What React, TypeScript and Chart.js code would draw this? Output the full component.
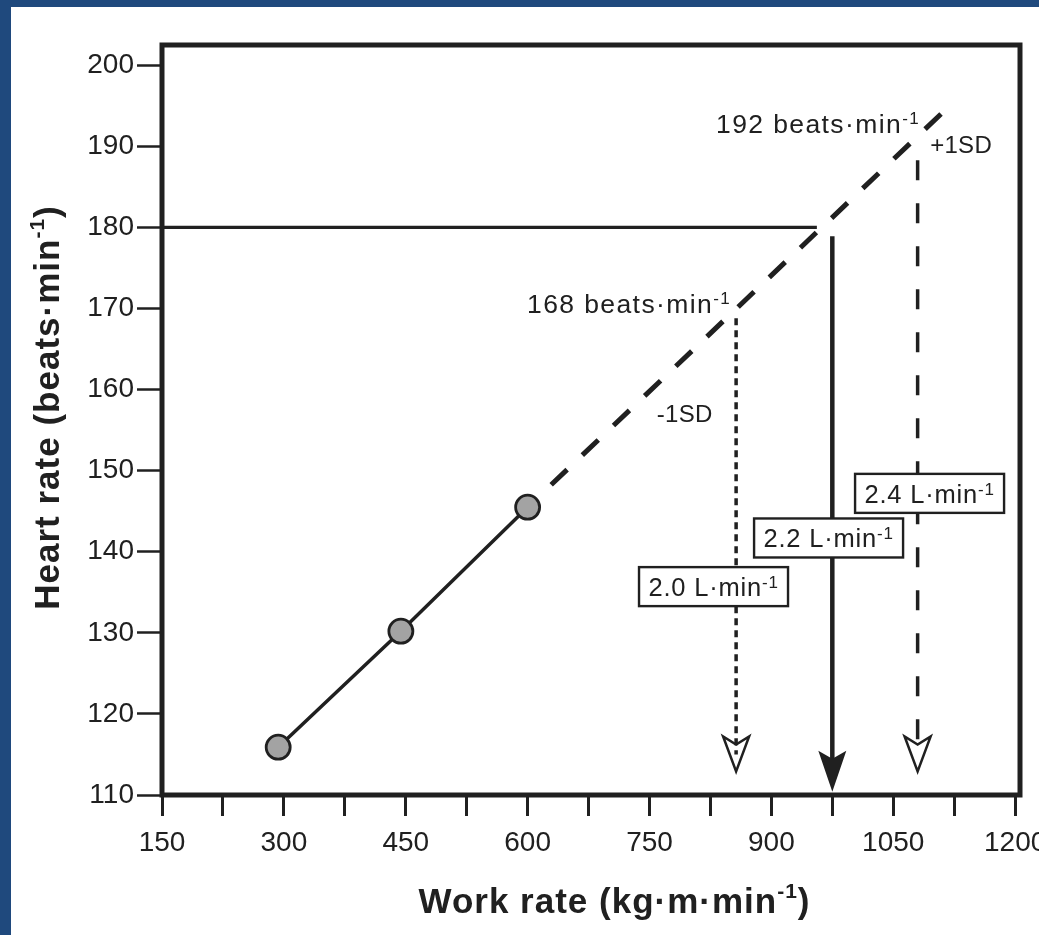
import React, { useEffect, useRef } from 'react';
import { Chart, registerables } from 'chart.js';

Chart.register(...registerables);

// ---------- data ----------
const xTickValues = [150, 225, 300, 375, 450, 525, 600, 675, 750, 825, 900, 975, 1050, 1125, 1200];
const xLabelValues = [150, 300, 450, 600, 750, 900, 1050, 1200];
const yTickValues = [110, 120, 130, 140, 150, 160, 170, 180, 190, 200];

// measured submaximal points
const workRate = [293, 444, 600];
const heartRate = [115.9, 130.2, 145.5];

// extrapolated line (dashed)
const extrapWork = [600, 1111];
const extrapHR = [145.5, 194.2];

// predicted max HR horizontal line
const maxHRWork = [150, 956];
const maxHR = [180, 180];

// vertical drop lines
const predWork = [975, 975];
const predHR = [178.9, 113];
const minusSDWork = [856.6, 856.6];
const minusSDHR = [168.8, 115];
const plusSDWork = [1080, 1080];
const plusSDHR = [188.3, 115];

// arrowheads
const arrowWork = [975, 856.6, 1080];
const arrowTipHR = [110.4, 112.9, 112.9];
const arrowFilled = [true, false, false];

// annotation texts
const beatsText = ['192 beats·min', '168 beats·min'];
const beatsWork = [1083, 850.4];
const beatsHR = [191.6, 169.5];

const sdText = ['+1SD', '-1SD'];
const sdWork = [1095.4, 758.9];
const sdHR = [189.15, 156.0];

const vo2Text = ['2.4 L·min', '2.2 L·min', '2.0 L·min'];
const vo2Work = [1094.7, 970.4, 828.8];
const vo2HR = [147.2, 141.7, 135.7];

const xTitle = 'Work rate (kg·m·min';
const yTitle = 'Heart rate (beats·min';
const supText = '-1';

// ---------- styles ----------
const FONT = '"Liberation Sans", Arial, Helvetica, sans-serif';
const INK = '#202020';
const BLUE = '#1f497d';

const pts = (xs: number[], ys: number[]) => xs.map((x, i) => ({ x, y: ys[i] }));

function drawRich(
  ctx: CanvasRenderingContext2D,
  parts: { t: string; sup?: boolean }[],
  x: number,
  y: number,
  align: 'left' | 'right' | 'center',
  size: number,
  supSize: number,
  supRaise: number,
  spacing: number,
  bold = false
) {
  const w = bold ? 'bold ' : '';
  const widths: number[] = [];
  (ctx as any).letterSpacing = `${spacing}px`;
  for (const p of parts) {
    ctx.font = `${w}${p.sup ? supSize : size}px ${FONT}`;
    widths.push(ctx.measureText(p.t).width);
  }
  const total = widths.reduce((a, b) => a + b, 0);
  let cx = align === 'right' ? x - total : align === 'center' ? x - total / 2 : x;
  ctx.textAlign = 'left';
  ctx.textBaseline = 'alphabetic';
  parts.forEach((p, i) => {
    ctx.font = `${w}${p.sup ? supSize : size}px ${FONT}`;
    ctx.fillText(p.t, cx, p.sup ? y - supRaise : y);
    cx += widths[i];
  });
  (ctx as any).letterSpacing = '0px';
}

const decor = {
  id: 'decor',
  beforeDraw(chart: any) {
    const ctx: CanvasRenderingContext2D = chart.ctx;
    ctx.save();
    ctx.fillStyle = '#ffffff';
    ctx.fillRect(0, 0, chart.width, chart.height);
    ctx.fillStyle = BLUE;
    ctx.fillRect(0, 0, chart.width, 7);
    ctx.fillRect(0, 0, 11, chart.height);
    ctx.restore();
  },
  afterDatasetsDraw(chart: any) {
    const ctx: CanvasRenderingContext2D = chart.ctx;
    const xs = chart.scales.x;
    const ys = chart.scales.y;
    const a = chart.chartArea;
    ctx.save();

    // plot frame
    ctx.strokeStyle = INK;
    ctx.lineWidth = 5;
    ctx.strokeRect(a.left, a.top, a.right - a.left, a.bottom - a.top);

    // arrowheads
    arrowWork.forEach((wv, i) => {
      const px = xs.getPixelForValue(wv);
      const tip = ys.getPixelForValue(arrowTipHR[i]);
      ctx.beginPath();
      if (arrowFilled[i]) {
        ctx.moveTo(px - 14, tip - 41);
        ctx.lineTo(px, tip);
        ctx.lineTo(px + 14, tip - 41);
        ctx.lineTo(px, tip - 33);
        ctx.closePath();
        ctx.fillStyle = INK;
        ctx.fill();
      } else {
        ctx.moveTo(px - 13, tip - 35);
        ctx.lineTo(px, tip);
        ctx.lineTo(px + 13, tip - 35);
        ctx.lineTo(px, tip - 27);
        ctx.closePath();
        ctx.lineWidth = 2.5;
        ctx.lineJoin = 'miter';
        ctx.strokeStyle = INK;
        ctx.stroke();
      }
    });

    ctx.fillStyle = INK;

    // beats labels
    beatsText.forEach((t, i) => {
      drawRich(ctx, [{ t }, { t: supText, sup: true }],
        xs.getPixelForValue(beatsWork[i]), ys.getPixelForValue(beatsHR[i]),
        'right', 26.5, 17, 9, 1.4);
    });

    // SD labels
    sdText.forEach((t, i) => {
      drawRich(ctx, [{ t }], xs.getPixelForValue(sdWork[i]), ys.getPixelForValue(sdHR[i]),
        'left', 24, 16, 8, 0.3);
    });

    // VO2 boxes
    vo2Text.forEach((t, i) => {
      const cx = xs.getPixelForValue(vo2Work[i]);
      const cy = ys.getPixelForValue(vo2HR[i]);
      const bw = 149, bh = 39;
      ctx.fillStyle = '#ffffff';
      ctx.fillRect(cx - bw / 2, cy - bh / 2, bw, bh);
      ctx.strokeStyle = INK;
      ctx.lineWidth = 2.4;
      ctx.strokeRect(cx - bw / 2, cy - bh / 2, bw, bh);
      ctx.fillStyle = INK;
      drawRich(ctx, [{ t }, { t: supText, sup: true }], cx, cy + 9.5, 'center', 25.5, 17, 8, 0.8);
    });

    // axis titles
    drawRich(ctx, [{ t: xTitle }, { t: supText, sup: true }, { t: ')' }],
      614.5, 913, 'center', 35, 21, 15, 1, true);
    ctx.save();
    ctx.translate(59, 407.5);
    ctx.rotate(-Math.PI / 2);
    drawRich(ctx, [{ t: yTitle }, { t: supText, sup: true }, { t: ')' }],
      0, 0, 'center', 35, 21, 15, 1, true);
    ctx.restore();

    ctx.restore();
  },
};

export default function App() {
  const ref = useRef<HTMLCanvasElement>(null);

  useEffect(() => {
    const canvas = ref.current!;
    const lineBase = { showLine: true, pointRadius: 0, pointHoverRadius: 0, borderColor: INK, fill: false, tension: 0 };
    const chart = new Chart(canvas, {
      type: 'scatter',
      data: {
        datasets: [
          {
            label: 'Measured',
            data: pts(workRate, heartRate),
            showLine: true,
            borderColor: INK,
            borderWidth: 3.5,
            pointRadius: 12,
            pointHoverRadius: 12,
            pointBackgroundColor: '#a3a3a3',
            pointBorderColor: INK,
            pointBorderWidth: 2.8,
            order: 0,
          },
          { ...lineBase, label: 'Extrapolation', data: pts(extrapWork, extrapHR), borderWidth: 5, borderDash: [22, 21], borderDashOffset: 10.5, order: 5 },
          { ...lineBase, label: 'Max HR', data: pts(maxHRWork, maxHR), borderWidth: 3.2, order: 5 },
          { ...lineBase, label: 'Predicted', data: pts(predWork, predHR), borderWidth: 4.5, order: 5 },
          { ...lineBase, label: '-1SD', data: pts(minusSDWork, minusSDHR), borderWidth: 3.5, borderDash: [7, 5], order: 5 },
          { ...lineBase, label: '+1SD', data: pts(plusSDWork, plusSDHR), borderWidth: 3.5, borderDash: [20, 23], order: 5 },
        ],
      },
      options: {
        animation: false,
        responsive: false,
        devicePixelRatio: 1,
        layout: { padding: { left: 0, right: 19, top: 45, bottom: 0 } },
        plugins: { legend: { display: false }, tooltip: { enabled: false }, title: { display: false } },
        scales: {
          x: {
            type: 'linear',
            min: 150,
            max: 1206,
            afterBuildTicks: (s: any) => { s.ticks = xTickValues.map((v) => ({ value: v })); },
            afterFit: (s: any) => { s.height = 140; s.paddingLeft = 0; s.paddingRight = 0; },
            ticks: {
              autoSkip: false,
              maxRotation: 0,
              minRotation: 0,
              padding: 10,
              color: INK,
              font: { family: FONT, size: 28 },
              callback: (v: any) => (xLabelValues.includes(Number(v)) ? String(v) : ''),
            },
            grid: { display: true, drawOnChartArea: false, drawTicks: true, tickLength: 21, tickWidth: 3, tickColor: INK },
            border: { display: false },
          },
          y: {
            type: 'linear',
            min: 110,
            max: 202.5,
            afterBuildTicks: (s: any) => { s.ticks = yTickValues.map((v) => ({ value: v })); },
            afterFit: (s: any) => { s.width = 162; s.paddingTop = 0; s.paddingBottom = 0; },
            ticks: {
              autoSkip: false,
              padding: 3,
              color: INK,
              font: { family: FONT, size: 28 },
              callback: (v: any) => String(v),
            },
            grid: { display: true, drawOnChartArea: false, drawTicks: true, tickLength: 25, tickWidth: 2.5, tickColor: INK },
            border: { display: false },
          },
        },
      },
      plugins: [decor],
    } as any);
    return () => chart.destroy();
  }, []);

  return (
    <div style={{ position: 'fixed', left: 0, top: 0, width: 1039, height: 935, background: '#fff' }}>
      <canvas ref={ref} width={1039} height={935} style={{ display: 'block', width: 1039, height: 935 }} />
    </div>
  );
}
